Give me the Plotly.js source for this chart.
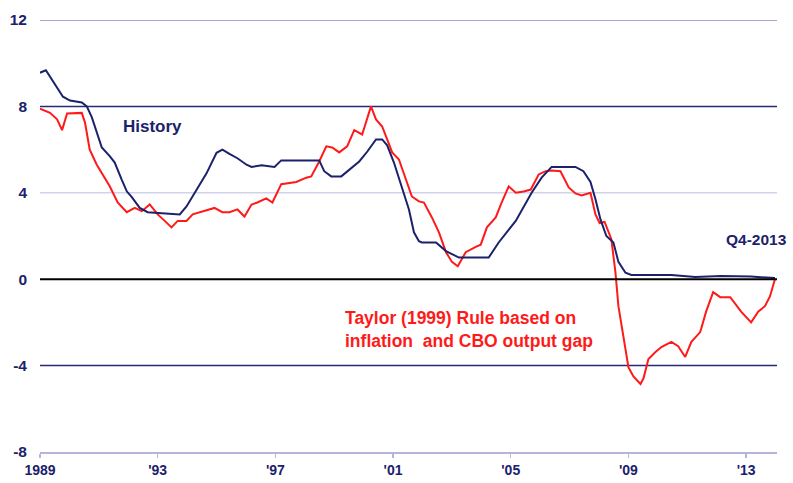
<!DOCTYPE html>
<html>
<head>
<meta charset="utf-8">
<script src="https://cdn.plot.ly/plotly-3.0.1.min.js"></script>
<style>html,body{margin:0;padding:0;background:#fff;}#chart{width:793px;height:483px;}</style>
</head>
<body>
<div id="chart"></div>
<script>
// Federal funds rate (History), decimal years
const historyX = [1989.00,1989.20,1989.78,1990.02,1990.42,1990.59,1990.76,1990.93,1991.10,1991.37,1991.54,1991.78,1991.95,1992.12,1992.39,1992.66,1993.07,1993.75,1993.98,1994.32,1994.66,1995.00,1995.20,1995.44,1995.71,1996.02,1996.19,1996.53,1996.97,1997.20,1998.49,1998.66,1998.90,1999.24,1999.51,1999.85,2000.12,2000.42,2000.63,2000.80,2001.03,2001.31,2001.54,2001.71,2001.88,2001.98,2002.46,2002.80,2003.24,2004.25,2004.59,2005.17,2005.71,2006.05,2006.39,2007.20,2007.47,2007.71,2007.88,2008.05,2008.25,2008.49,2008.66,2008.90,2009.10,2010.46,2011.27,2012.15,2013.17,2013.98];
const historyY = [9.56,9.67,8.45,8.27,8.18,8.0,7.5,6.8,6.1,5.7,5.4,4.6,4.07,3.8,3.3,3.1,3.05,3.0,3.37,4.15,4.9,5.85,6.0,5.8,5.6,5.3,5.2,5.27,5.2,5.5,5.5,5.0,4.76,4.76,5.08,5.45,5.9,6.47,6.47,6.2,5.4,4.15,3.23,2.17,1.76,1.7,1.7,1.3,1.0,1.0,1.7,2.7,4.0,4.7,5.2,5.2,5.0,4.5,3.7,2.77,2.0,1.7,0.8,0.3,0.2,0.2,0.1,0.15,0.12,0.05];

// Taylor (1999) rule
const taylorX = [1989.00,1989.34,1989.58,1989.75,1989.92,1990.42,1990.53,1990.69,1990.93,1991.14,1991.37,1991.64,1991.95,1992.22,1992.46,1992.73,1993.00,1993.24,1993.47,1993.68,1993.98,1994.19,1994.66,1994.93,1995.20,1995.44,1995.71,1995.95,1996.19,1996.39,1996.69,1996.90,1997.20,1997.47,1997.71,1998.05,1998.22,1998.49,1998.73,1998.93,1999.17,1999.44,1999.68,1999.95,2000.25,2000.42,2000.63,2000.80,2000.97,2001.20,2001.44,2001.64,2001.88,2002.05,2002.32,2002.56,2002.80,2003.00,2003.20,2003.47,2003.81,2003.98,2004.19,2004.49,2004.69,2004.93,2005.17,2005.44,2005.68,2005.95,2006.19,2006.39,2006.69,2006.97,2007.20,2007.41,2007.71,2007.88,2008.02,2008.19,2008.42,2008.56,2008.66,2008.83,2009.00,2009.17,2009.41,2009.51,2009.68,2009.92,2010.12,2010.46,2010.69,2010.93,2011.14,2011.44,2011.64,2011.88,2012.12,2012.46,2012.83,2013.17,2013.41,2013.64,2013.81,2013.98];
const taylorY = [7.9,7.7,7.4,6.9,7.67,7.7,7.25,6.0,5.3,4.85,4.3,3.55,3.1,3.3,3.15,3.46,3.0,2.7,2.4,2.7,2.7,3.0,3.2,3.3,3.1,3.1,3.23,2.9,3.46,3.55,3.74,3.55,4.4,4.46,4.5,4.7,4.76,5.45,6.15,6.1,5.87,6.15,6.9,6.7,8.0,7.4,7.07,6.47,5.87,5.54,4.6,3.83,3.6,3.55,2.86,2.17,1.25,0.8,0.6,1.25,1.5,1.6,2.4,2.86,3.55,4.3,4.0,4.06,4.15,4.85,5.0,5.03,5.0,4.25,3.97,3.88,4.0,3.0,2.6,2.65,1.85,0.3,-1.25,-2.77,-4.07,-4.5,-4.85,-4.6,-3.7,-3.37,-3.14,-2.9,-3.1,-3.6,-2.9,-2.45,-1.5,-0.6,-0.83,-0.83,-1.5,-2.0,-1.5,-1.25,-0.8,0.0];

const xTickVals = [1989,1993,1997,2001,2005,2009,2013];
const xTickText = ['1989',"'93","'97","'01","'05","'09","'13"];
const yTickVals = [-8,-4,0,4,8,12];
const yTickText = ['-8','-4','0','4','8','12'];
const gridLevels = [12,8,4,-4];
const gridColors = ['#8a8ac4','#262a78','#d2d2ec','#262a78'];

const NAVY = '#1b216b';
const RED = '#ff1a1a';
const FONT = 'Liberation Sans, Arial, sans-serif';

const shapes = gridLevels.map((v,i)=>({type:'line',xref:'paper',yref:'y',x0:0,x1:1,y0:v,y1:v,line:{color:gridColors[i],width:1.5},layer:'below'}));
shapes.push({type:'line',xref:'paper',yref:'y',x0:0,x1:1,y0:0,y1:0,line:{color:'#000',width:2},layer:'above'});

const data = [
  {x:taylorX,y:taylorY,type:'scatter',mode:'lines',line:{color:RED,width:2},hoverinfo:'skip',name:'Taylor'},
  {x:historyX,y:historyY,type:'scatter',mode:'lines',line:{color:NAVY,width:2},hoverinfo:'skip',name:'History'}
];

const layout = {
  width:793,height:483,
  margin:{l:40,r:16,t:20,b:31},
  paper_bgcolor:'#fff',plot_bgcolor:'#fff',
  showlegend:false,
  xaxis:{range:[1989,2014.05],tickvals:xTickVals,ticktext:xTickText,showgrid:false,zeroline:false,
    showline:true,linecolor:'#b4b4dc',linewidth:2,ticks:'outside',ticklen:4,tickcolor:'#b4b4dc',tickwidth:1.5,
    tickfont:{family:FONT,size:14,color:NAVY,weight:'bold'}},
  yaxis:{range:[-8,12],tickvals:yTickVals,ticktext:yTickText,showgrid:false,zeroline:false,showline:false,ticks:'',ticklabelstandoff:12,
    tickfont:{family:FONT,size:15.5,color:NAVY,weight:'bold'}},
  shapes:shapes,
  annotations:[
    {x:1992.83,y:7.07,xref:'x',yref:'y',text:'<b>History</b>',showarrow:false,font:{family:FONT,size:17,color:NAVY}},
    {x:1999.3,y:-2.35,xref:'x',yref:'y',xanchor:'left',align:'left',text:'<b>Taylor (1999) Rule based on<br>inflation  and CBO output gap</b>',showarrow:false,font:{family:FONT,size:17.5,color:RED}},
    {x:2013.34,y:1.85,xref:'x',yref:'y',text:'<b>Q4-2013</b>',showarrow:false,font:{family:FONT,size:15.5,color:NAVY}}
  ]
};

Plotly.newPlot('chart',data,layout,{displayModeBar:false,staticPlot:true});
</script>
</body>
</html>
